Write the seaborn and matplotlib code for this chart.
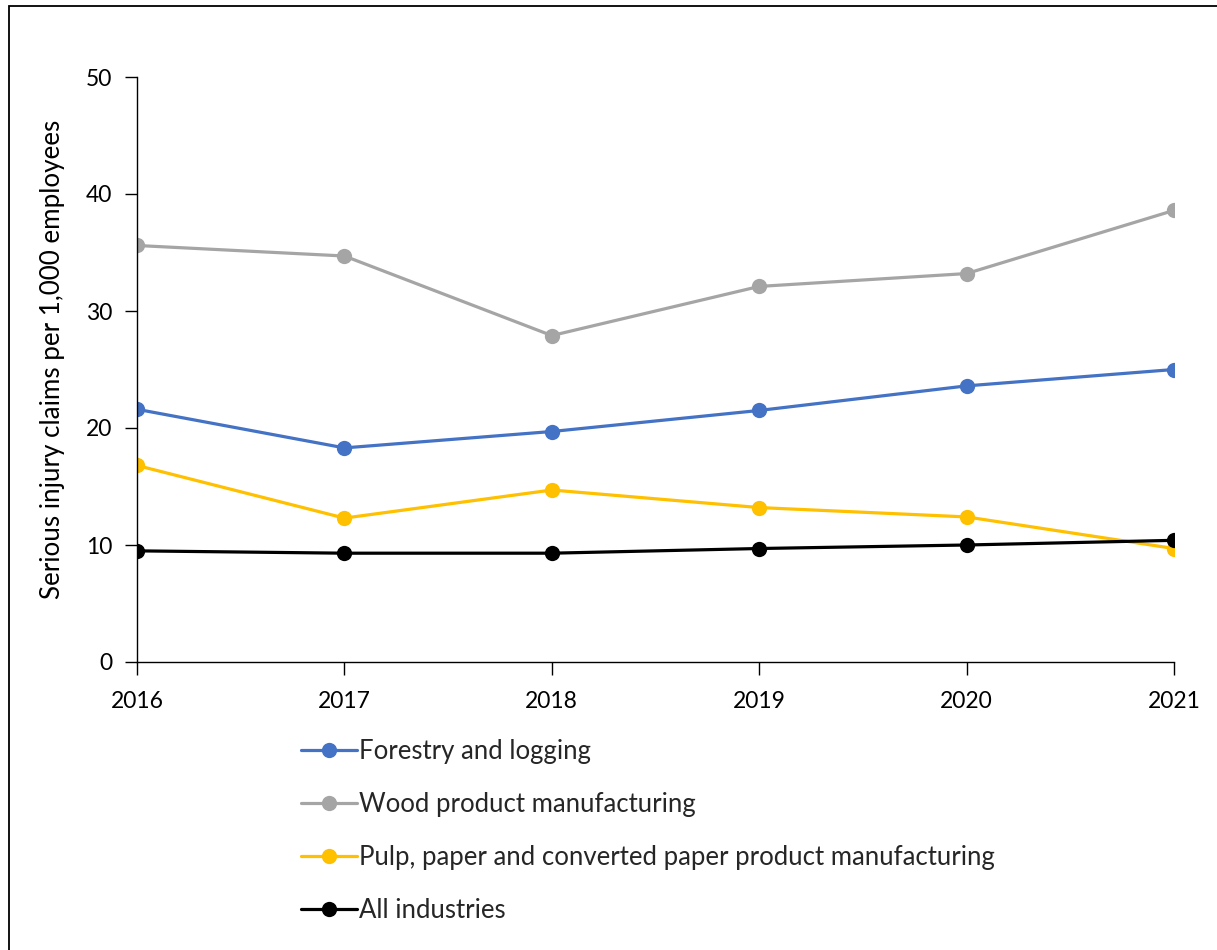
import matplotlib
matplotlib.use("Agg")
import matplotlib.pyplot as plt
import seaborn as sns
import pandas as pd
from matplotlib.patches import Rectangle

years = [2016, 2017, 2018, 2019, 2020, 2021]
forestry = [21.6, 18.3, 19.7, 21.5, 23.6, 25.0]
wood = [35.6, 34.7, 27.9, 32.1, 33.2, 38.6]
pulp = [16.8, 12.3, 14.7, 13.2, 12.4, 9.7]
all_ind = [9.5, 9.3, 9.3, 9.7, 10.0, 10.4]

series_names = ["Forestry and logging", "Wood product manufacturing",
                "Pulp, paper and converted paper product manufacturing", "All industries"]
series_vals = [forestry, wood, pulp, all_ind]
colors = ["#4472C4", "#A5A5A5", "#FFC000", "#000000"]
y_ticks = [0, 10, 20, 30, 40, 50]
y_label = "Serious injury claims per 1,000 employees"

rows = []
for name, vals in zip(series_names, series_vals):
    for yr, v in zip(years, vals):
        rows.append({"Year": yr, "Value": v, "Series": name})
df = pd.DataFrame(rows)

sns.set_theme(style="white")
plt.rcParams["font.family"] = ["Lato", "DejaVu Sans"]

fig = plt.figure(figsize=(12.17, 9.5), dpi=100)
ax = fig.add_axes([137/1217, 1-662/950, (1174-137)/1217, (662-77)/950])

sns.lineplot(data=df, x="Year", y="Value", hue="Series", hue_order=series_names,
             palette=dict(zip(series_names, colors)), marker="o", markersize=11,
             markeredgewidth=0, linewidth=2.3, ax=ax, legend=True)

handles, labels = ax.get_legend_handles_labels()
ax.get_legend().remove()

ax.set_xlim(years[0], years[-1])
ax.set_ylim(0, 50)
ax.set_yticks(y_ticks)
ax.set_xticks(years)
ax.set_xticklabels([str(y) for y in years])
ax.set_xlabel("")
ax.set_ylabel(y_label, fontsize=18.7, labelpad=15, color="black")
ax.yaxis.label.set_y(0.518)
for s in ["top", "right"]:
    ax.spines[s].set_visible(False)
for s in ["left", "bottom"]:
    ax.spines[s].set_color("black")
    ax.spines[s].set_linewidth(1)
ax.tick_params(axis="y", direction="out", length=9, width=1, color="black",
               labelsize=16.5, pad=9, labelcolor="black", left=True)
ax.tick_params(axis="x", direction="out", length=9, width=1, color="black",
               labelsize=16.5, pad=12, labelcolor="black", bottom=True)

leg = fig.legend(handles, labels, loc="upper left", bbox_to_anchor=(291/1217, 1-729/950),
                 frameon=False, fontsize=18.5, handlelength=2.15, handletextpad=0.1,
                 labelspacing=1.09, borderaxespad=0)
for h in leg.legend_handles:
    h.set_markersize(11)
    h.set_linewidth(2.3)

fig.patches.append(Rectangle((9/1217, -0.1), 1.2, 1.1 - 6/950, transform=fig.transFigure,
                             fill=False, edgecolor="black", linewidth=1.3))

fig.savefig("out.png", dpi=100, facecolor="white")
